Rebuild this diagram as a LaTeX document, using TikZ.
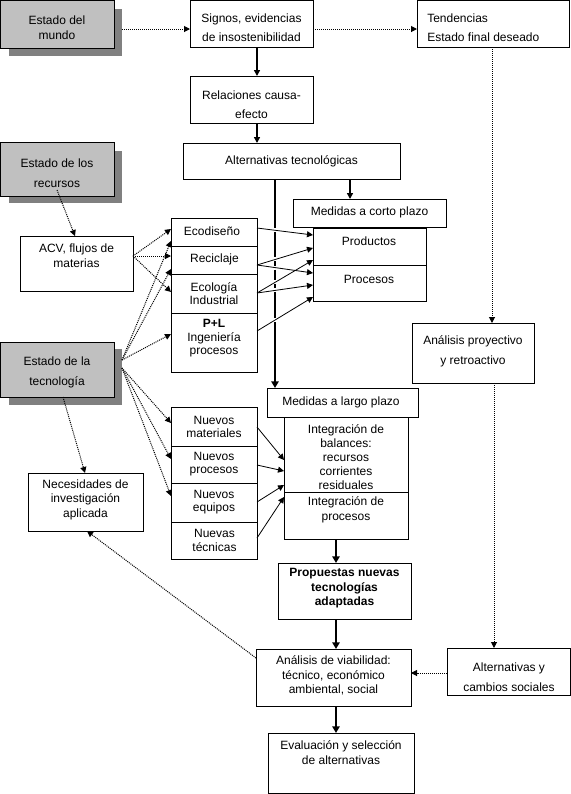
\documentclass[tikz,border=0pt]{standalone}
\usepackage{fontspec}
\setmainfont{Liberation Sans}
\usetikzlibrary{arrows.meta}
\definecolor{grayL}{RGB}{192,192,192}
\definecolor{grayD}{RGB}{128,128,128}
\newcommand{\boxat}[6][]{\node[bx,#1,minimum width={(#5-#3)*0.75pt},minimum height={(#6-#4)*0.75pt}] (#2) at (#3,#4) {};}
\newcommand{\txat}[5]{\node[txt,font=\fontsize{9pt}{#4pt}\selectfont] (#1) at (#2,#3) {#5};}
\begin{document}
\begin{tikzpicture}[x=0.75pt,y=-0.75pt,
  bx/.style={draw,line width=0.75pt,anchor=north west,inner sep=0pt,outer sep=0pt},
  txt/.style={inner sep=0pt,align=center},
  tipthin/.style={-{Triangle[length=4.5pt,width=4.5pt]}},
  dotarrow/.style={line width=0.75pt,dash pattern=on 0.75pt off 0.75pt,tipthin},
  solarrow/.style={line width=0.6pt,tipthin},
  medarrow/.style={line width=1.1pt,tipthin},
  thickarrow/.style={line width=1.5pt,-{Triangle[length=5pt,width=5.5pt]}}]
\useasboundingbox (0,0) rectangle (571,794);
% boxes
\boxat[draw=none,fill=grayD]{mundoS}{9}{9}{122}{56}
\boxat[fill=grayL]{mundo}{0}{0}{114}{48}
\boxat{signos}{190}{0}{313}{47}
\boxat{tend}{417}{0}{569}{47}
\boxat{rel}{190}{76}{313}{123}
\boxat{alt}{183}{143}{400}{179}
\boxat{corto}{293}{199}{446}{227}
\boxat{prod}{313}{228}{426}{265}
\boxat{proc}{313}{265}{426}{301}
\boxat[draw=none,fill=grayD]{recS}{9}{151}{122}{203}
\boxat[fill=grayL]{rec}{0}{142}{114}{196}
\boxat{acv}{20}{236}{133}{291}
\boxat{eco}{171}{218}{257}{246}
\boxat{recic}{171}{246}{257}{274}
\boxat{ecoi}{171}{274}{257}{313}
\boxat{pl}{171}{313}{257}{372}
\boxat[draw=none,fill=grayD]{tecS}{9}{349}{122}{405}
\boxat[fill=grayL]{tec}{0}{342}{114}{397}
\boxat{nec}{28}{473}{143}{531}
\boxat{nm}{171}{407}{257}{446}
\boxat{np}{171}{446}{257}{483}
\boxat{ne}{171}{483}{257}{522}
\boxat{nt}{171}{522}{257}{559}
\boxat{proy}{412}{323}{534}{383}
\boxat{largo}{267}{388}{418}{417}
\boxat{intb}{284}{417}{408}{492}
\boxat{intp}{284}{492}{408}{539}
\boxat{prop}{278}{563}{411}{619}
\boxat{viab}{256}{649}{411}{706}
\boxat{altsoc}{447}{648}{570}{695}
\boxat{eval}{268}{733}{414}{793}
% texts
\txat{tMundo}{57}{28}{11.25}{Estado del\\mundo}
\txat{tSignos}{251.5}{27.5}{14.25}{Signos, evidencias\\de insostenibilidad}
\node[inner sep=0pt,align=left,anchor=west,font=\fontsize{9pt}{14.25pt}\selectfont] (tTend) at (427,27.5) {Tendencias\\Estado final deseado};
\txat{tRel}{251.5}{104.5}{14.25}{Relaciones causa-\\efecto}
\txat{tAlt}{291.5}{161}{11}{Alternativas tecnológicas}
\txat{tCorto}{369.5}{212}{11}{Medidas a corto plazo}
\txat{tProd}{369}{241}{11}{Productos}
\txat{tProc}{369}{279}{11}{Procesos}
\txat{tRec}{57}{173}{15}{Estado de los\\recursos}
\txat{tAcv}{76.5}{255.5}{11.25}{ACV, flujos de\\materias}
\txat{tEco}{212}{231}{11}{Ecodiseño}
\txat{tRecic}{214.5}{259}{11}{Reciclaje}
\txat{tEcoi}{214}{293.5}{10}{Ecología\\Industrial}
\txat{tPl}{214}{338.5}{10.1}{\textbf{P+L}\\Ingeniería\\procesos}
\txat{tTec}{57}{372}{15}{Estado de la\\tecnología}
\txat{tNec}{85.5}{499.5}{10.9}{Necesidades de\\investigación\\aplicada}
\txat{tNm}{214}{426.5}{9.75}{Nuevos\\materiales}
\txat{tNp}{214}{464.5}{9.75}{Nuevos\\procesos}
\txat{tNe}{214}{502.5}{9.75}{Nuevos\\equipos}
\txat{tNt}{214.5}{540}{10.5}{Nuevas\\técnicas}
\txat{tProy}{473}{351}{15}{Análisis proyectivo\\y retroactivo}
\txat{tLargo}{341}{402}{11}{Medidas a largo plazo}
\txat{tIntb}{346}{457}{10.5}{Integración de\\balances:\\recursos\\corrientes\\residuales}
\txat{tIntp}{346}{509.5}{11.25}{Integración de\\procesos}
\node[txt,font=\fontsize{9pt}{10.9pt}\selectfont\bfseries] (tProp) at (344.5,588.5) {Propuestas nuevas\\tecnologías\\adaptadas};
\txat{tViab}{333.5}{675.5}{10.9}{Análisis de viabilidad:\\técnico, económico\\ambiental, social}
\txat{tAltsoc}{509}{677}{15}{Alternativas y\\cambios sociales}
\txat{tEval}{341}{752.5}{11.25}{Evaluación y selección\\de alternativas}
% connectors
\draw[dotarrow] (mundoS.east |- 0,29) -- (signos.west |- 0,29);
\draw[dotarrow] (signos.east |- 0,29) -- (tend.west |- 0,29);
\draw[medarrow] (signos.south -| 257,0) -- (rel.north -| 257,0);
\draw[medarrow] (rel.south -| 257,0) -- (alt.north -| 257,0);
\draw[medarrow] (alt.south -| 350,0) -- (corto.north -| 350,0);
\draw[line width=1.5pt,-{Triangle[length=5pt,width=5.5pt]},
  dash pattern=on 36.75pt off 3pt on 19.1pt off 3pt on 3.1pt off 3pt on 8.1pt off 3pt on 3pt off 3pt on 19.2pt off 3pt on 200pt off 1pt]
  (alt.south -| 275,0) -- (largo.north -| 275,0);
\draw[dotarrow] (rec.south |- 0,190) -- (acv.north -| 75,0);
\draw[dotarrow] (acv.east |- 0,256) -- (eco.west |- 0,229);
\draw[dotarrow] (acv.east |- 0,256) -- (recic.west |- 0,256);
\draw[dotarrow] (acv.east |- 0,256) -- (ecoi.west |- 0,292);
\draw[dotarrow] (tecS.east |- 0,360) -- (eco.west |- 0,241);
\draw[dotarrow] (tecS.east |- 0,360) -- (recic.west |- 0,269);
\draw[dotarrow] (tecS.east |- 0,360) -- (pl.west |- 0,334);
\draw[dotarrow] (tecS.east |- 0,368) -- (nm.west |- 0,423);
\draw[dotarrow] (tecS.east |- 0,368) -- (np.west |- 0,459);
\draw[dotarrow] (tecS.east |- 0,368) -- (ne.west |- 0,496);
\draw[dotarrow] (tec.south -| 63,0) -- (nec.north -| 85,0);
\draw[solarrow] (eco.east |- 0,228) -- (prod.west |- 0,235);
\draw[solarrow] (recic.east |- 0,265) -- (prod.west |- 0,248);
\draw[solarrow] (recic.east |- 0,265) -- (proc.west |- 0,273);
\draw[solarrow] (ecoi.east |- 0,293) -- (prod.west |- 0,260);
\draw[solarrow] (ecoi.east |- 0,293) -- (proc.west |- 0,285);
\draw[solarrow] (pl.east |- 0,331) -- (proc.west |- 0,297);
\draw[solarrow] (nm.east |- 0,427) -- (intb.west |- 0,460);
\draw[solarrow] (np.east |- 0,465) -- (intb.west |- 0,471);
\draw[solarrow] (ne.east |- 0,502) -- (intb.west |- 0,485);
\draw[solarrow] (nt.east |- 0,538) -- (intp.west |- 0,497);
\draw[dotarrow] (tend.south -| 492,0) -- (proy.north -| 492,0);
\draw[dotarrow] (proy.south -| 494,0) -- (altsoc.north -| 494,0);
\draw[dotarrow] (altsoc.west |- 0,673) -- (viab.east |- 0,673);
\draw[dotarrow] (viab.west |- 0,658) -- (nec.south -| 87,0);
\draw[thickarrow] (intp.south -| 336,0) -- (prop.north -| 336,0);
\draw[thickarrow] (prop.south -| 336,0) -- (viab.north -| 336,0);
\draw[thickarrow] (viab.south -| 336,0) -- (eval.north -| 336,0);
\end{tikzpicture}
\end{document}
